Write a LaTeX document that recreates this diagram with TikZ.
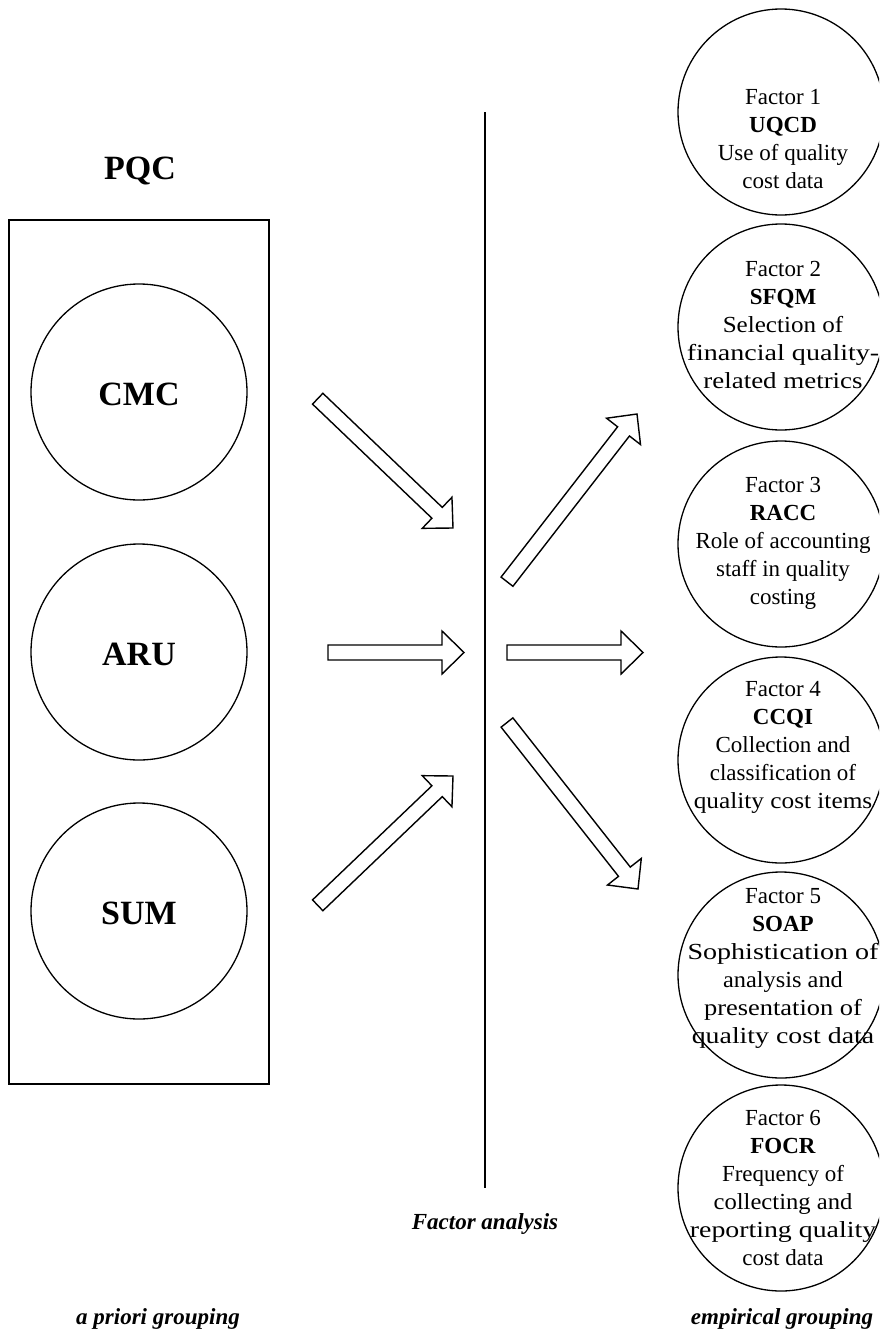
\documentclass[tikz,border=0pt]{standalone}
\usepackage{graphicx}
\usepackage{fontspec}
\setmainfont{Liberation Serif}
\usetikzlibrary{calc}
\tikzset{
  bigcirc/.style={circle,draw,line width=1.3pt,minimum size=216pt,inner sep=0pt},
  faccirc/.style={circle,draw,line width=1.3pt,minimum size=206pt,inner sep=0pt},
  factext/.style={align=center,font=\fontsize{23}{28}\selectfont,inner sep=0pt},
  bigbold/.style={font=\fontsize{34}{40}\selectfont\bfseries,inner sep=0pt},
  captxt/.style={font=\fontsize{23}{28}\selectfont\bfseries\itshape,inner sep=0pt},
  fatarrow/.style={draw,line width=1.4pt,fill=white,line join=miter}
}
\newcommand\fatarr[2]{%
  \coordinate (#1-h) at ($(#2)!22pt!(#1)$);
  \draw[fatarrow] ($(#1)!7.5pt!90:(#2)$) -- ($(#1-h)!7.5pt!90:(#2)$) -- ($(#1-h)!21.5pt!90:(#2)$) -- (#2) -- ($(#1-h)!21.5pt!-90:(#2)$) -- ($(#1-h)!7.5pt!-90:(#2)$) -- ($(#1)!7.5pt!-90:(#2)$) -- cycle;
}
\newcommand\wideln[2]{\scalebox{#1}[1]{#2}}
\begin{document}
\begin{tikzpicture}[x=1pt,y=-1pt]
\clip (0,0) rectangle (879,1330);
\fill[white] (0,0) rectangle (879,1330);
% left group
\node[bigbold] (pqc) at (140,171) {PQC};
\node[draw,line width=1.5pt,minimum width=260pt,minimum height=864pt,inner sep=0pt] (box) at (139,652) {};
\node[bigcirc] (cmc) at (139,392) {};
\node[bigbold] (cmct) at (139,394) {CMC};
\node[bigcirc] (aru) at (139,652) {};
\node[bigbold] (arut) at (139,654) {ARU};
\node[bigcirc] (sum) at (139,911) {};
\node[bigbold] (sumt) at (139,913) {SUM};
% vertical line
\coordinate (vtop) at (485,112);
\coordinate (vbot) at (485,1188);
\draw[line width=1.5pt] (vtop) -- (vbot);
\node[captxt] (fa) at (485,1224) {Factor analysis};
\node[captxt] (apg) at (158,1319) {a priori grouping};
\node[captxt] (emg) at (782,1319) {empirical grouping};
% factor circles
\node[faccirc] (f1) at (781,112) {};
\node[faccirc] (f2) at (781,327) {};
\node[faccirc] (f3) at (781,544) {};
\node[faccirc] (f4) at (781,760) {};
\node[faccirc] (f5) at (781,975) {};
\node[faccirc] (f6) at (781,1188) {};
\node[factext] (t1) at (783,139) {Factor 1\\\textbf{UQCD}\\Use of quality\\cost data};
\node[factext] (t2) at (783,325) {Factor 2\\\textbf{SFQM}\\\wideln{1.09}{Selection of}\\\wideln{1.22}{financial quality-}\\\wideln{1.17}{related metrics}};
\node[factext] (t3) at (783,543) {Factor 3\\\textbf{RACC}\\Role of accounting\\staff in quality\\costing};
\node[factext] (t4) at (783,747) {Factor 4\\\textbf{CCQI}\\Collection and\\classification of\\\wideln{1.1}{quality cost items}};
\node[factext] (t5) at (783,968) {Factor 5\\\textbf{SOAP}\\\wideln{1.22}{Sophistication of}\\\wideln{1.06}{analysis and}\\\wideln{1.15}{presentation of}\\\wideln{1.21}{quality cost data}};
\node[factext] (t6) at (783,1188) {Factor 6\\\textbf{FOCR}\\Frequency of\\\wideln{1.07}{collecting and}\\\wideln{1.21}{reporting quality}\\cost data};
% arrows
\coordinate (a1) at (317.7,398.7); \coordinate (a1p) at (453,528);
\coordinate (a2) at (328,652.5);   \coordinate (a2p) at (464,652.5);
\coordinate (a3) at (317.7,905.3); \coordinate (a3p) at (453,776);
\coordinate (b1) at (507,581.7);   \coordinate (b1p) at (637,414);
\coordinate (b2) at (507,652.5);   \coordinate (b2p) at (643,652.5);
\coordinate (b3) at (507,722.5);   \coordinate (b3p) at (638,889);
\fatarr{a1}{a1p}
\fatarr{a2}{a2p}
\fatarr{a3}{a3p}
\fatarr{b1}{b1p}
\fatarr{b2}{b2p}
\fatarr{b3}{b3p}
\end{tikzpicture}
\end{document}
